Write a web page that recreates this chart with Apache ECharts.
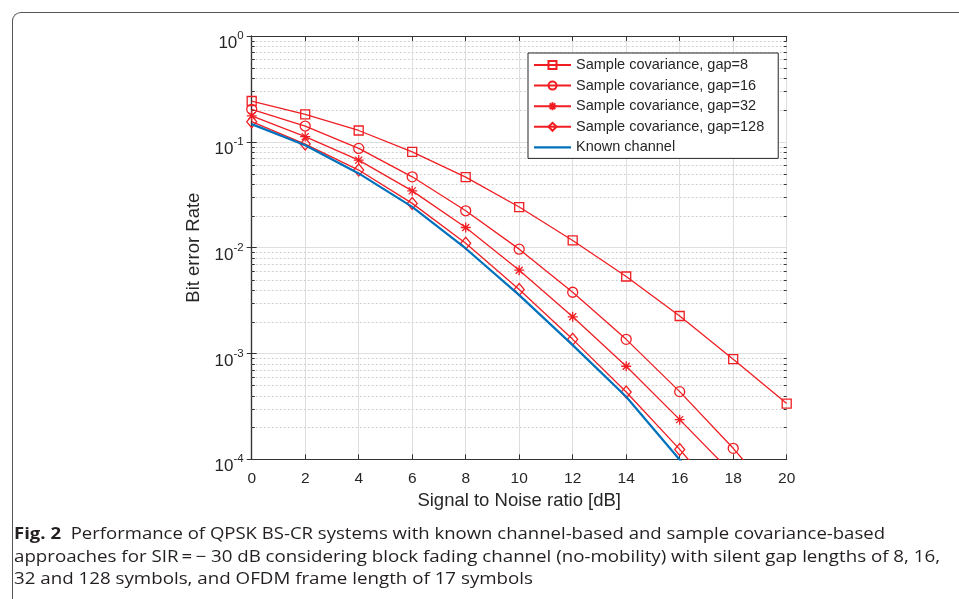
<!DOCTYPE html>
<html>
<head>
<meta charset="utf-8">
<script src="https://cdn.jsdelivr.net/npm/echarts@6/dist/echarts.min.js"></script>
<style>
  html, body { margin:0; padding:0; background:#fff; width:959px; height:599px; overflow:hidden; }
  #chart { position:absolute; left:0; top:0; width:959px; height:599px; }
  #frame { position:absolute; left:12px; top:12px; width:2000px; height:2000px;
           border-top:1.5px solid #555; border-left:1.5px solid #555; border-top-left-radius:9px; pointer-events:none; }
  #cap { position:absolute; left:14px; top:522px; font-family:'Open Sans','Noto Sans',sans-serif; font-size:16.5px;
         color:#231f20; line-height:22.5px; white-space:nowrap; }
  #cap .ln { display:block; transform-origin:0 50%; width:max-content; }
  #cap b { font-weight:700; }
</style>
</head>
<body>
<div id="chart"></div>
<div id="frame"></div>
<div id="cap">
  <div class="ln" data-w="871"><b>Fig. 2</b>&nbsp; Performance of QPSK BS-CR systems with known channel-based and sample covariance-based</div>
  <div class="ln" data-w="926">approaches for SIR&#8201;=&#8201;&#8722; 30 dB considering block fading channel (no-mobility) with silent gap lengths of 8, 16,</div>
  <div class="ln" data-w="519">32 and 128 symbols, and OFDM frame length of 17 symbols</div>
</div>
<script>
// ---- data ----
const snr = [0, 2, 4, 6, 8, 10, 12, 14, 16, 18, 20];
const gap8   = [0.243, 0.182, 0.128, 0.0805, 0.0464, 0.0242, 0.0117, 0.00534, 0.00226, 0.000883, 0.000336];
const gap16  = [0.203, 0.141, 0.0867, 0.0467, 0.0223, 0.00968, 0.00379, 0.00136, 0.000436, 0.000127, 0.000033];
const gap32  = [0.176, 0.112, 0.0672, 0.0344, 0.0155, 0.00612, 0.00222, 0.000757, 0.000237, 0.000072, 0.000020];
const gap128 = [0.155, 0.0952, 0.0541, 0.0262, 0.0110, 0.00402, 0.00136, 0.000433, 0.000124, 0.000032, 0.0000085];
const known  = [0.147, 0.093, 0.0503, 0.0243, 0.00982, 0.00356, 0.00120, 0.00039, 0.000099, 0.000025, 0.000006];
const seriesNames = ['Sample covariance, gap=8', 'Sample covariance, gap=16', 'Sample covariance, gap=32', 'Sample covariance, gap=128', 'Known channel'];
const xTitle = 'Signal to Noise ratio [dB]';
const yTitle = 'Bit error Rate';
// minor log ticks (2..9 x 10^n)
const minorTicks = [];
for (let n = -4; n <= -1; n++) for (let k = 2; k <= 9; k++) minorTicks.push(+(k * Math.pow(10, n)).toPrecision(3));

const RED = '#f01e23';
const BLUE = '#0072bd';
const FONT = 'Liberation Sans';
const AX = '#333';
const TXT = '#262626';

const pair = arr => snr.map((x, i) => [x, arr[i]]);
const STAR = 'path://M5,0L5,10M0,5L10,5M1.5,1.5L8.5,8.5M1.5,8.5L8.5,1.5';

function redSeries(name, arr, symbol, size) {
  return {
    name, type: 'line', data: pair(arr), symbol, symbolSize: size,
    clip: true, z: 3,
    lineStyle: { color: RED, width: 1.3 },
    itemStyle: { color: 'rgba(255,255,255,0)', borderColor: RED, borderWidth: 1.3 },
    emphasis: { disabled: true }
  };
}

const legendData = seriesNames.map((n, i) => i === 4
  ? { name: n, icon: 'path://M0,0L37,0L37,2.2L0,2.2Z', itemStyle: { color: BLUE, borderWidth: 0 } }
  : { name: n });

const chart = echarts.init(document.getElementById('chart'), null, { renderer: 'canvas' });
chart.setOption({
  animation: false,
  backgroundColor: '#fff',
  grid: { left: 251.7, right: 172.3, top: 36, bottom: 139.7 },
  legend: {
    data: legendData,
    orient: 'vertical', left: 528, top: 53,
    padding: [4, 14, 3, 5], itemGap: 4.6,
    itemWidth: 37, itemHeight: 10,
    backgroundColor: '#fff', borderColor: '#262626', borderWidth: 1, borderRadius: 0,
    textStyle: { fontFamily: FONT, fontSize: 14.5, color: TXT, lineHeight: 16 },
    selectedMode: false
  },
  xAxis: [{
    type: 'value', min: 0, max: 20, interval: 2, position: 'bottom',
    name: xTitle, nameLocation: 'middle', nameGap: 31,
    nameTextStyle: { fontFamily: FONT, fontSize: 18.5, color: TXT },
    axisLine: { show: true, lineStyle: { color: AX, width: 1.2 } },
    axisTick: { show: true, inside: true, length: 5, lineStyle: { color: AX } },
    axisLabel: { fontFamily: FONT, fontSize: 15.5, color: TXT, margin: 11 },
    splitLine: { show: true, lineStyle: { color: '#dedede', width: 1 } }
  }, {
    type: 'value', min: 0, max: 20, interval: 2, position: 'top',
    axisLine: { show: true, lineStyle: { color: AX, width: 1.2 } },
    axisTick: { show: true, inside: true, length: 5, lineStyle: { color: AX } },
    axisLabel: { show: false }, splitLine: { show: false }
  }],
  yAxis: [{
    type: 'log', logBase: 10, min: 0.0001, max: 1, position: 'left',
    name: yTitle, nameLocation: 'middle', nameGap: 41,
    nameTextStyle: { fontFamily: FONT, fontSize: 18.5, color: TXT },
    axisLine: { show: true, lineStyle: { color: AX, width: 1.2 } },
    axisTick: { show: true, inside: true, length: 5, lineStyle: { color: AX } },
    axisLabel: {
      margin: 8, fontFamily: FONT, fontSize: 17, color: TXT,
      formatter: v => '{b|10}{e|' + Math.round(Math.log10(v)) + '}',
      rich: {
        b: { fontFamily: FONT, fontSize: 17, color: TXT, lineHeight: 22, verticalAlign: 'bottom' },
        e: { fontFamily: FONT, fontSize: 11.5, color: TXT, lineHeight: 32, verticalAlign: 'middle' }
      }
    },
    splitLine: { show: true, lineStyle: { color: '#dedede', width: 1 } }
  }, {
    type: 'log', logBase: 10, min: 0.0001, max: 1, position: 'right',
    axisLine: { show: true, lineStyle: { color: AX, width: 1.2 } },
    axisTick: { show: true, inside: true, length: 5, lineStyle: { color: AX } },
    axisLabel: { show: false }, splitLine: { show: false }
  }],
  series: [
    {
      type: 'custom', name: 'minor', silent: true, z: 1,
      xAxisIndex: 0, yAxisIndex: 0,
      data: minorTicks.map(v => [0, v]),
      encode: { x: 0, y: 1 },
      renderItem: (params, api) => {
        const cs = params.coordSys;
        const y = Math.round(api.coord([0, api.value(1)])[1]) + 0.5;
        const x0 = cs.x, x1 = cs.x + cs.width;
        return {
          type: 'group',
          children: [
            { type: 'line', shape: { x1: x0, y1: y, x2: x1, y2: y }, style: { stroke: '#cfcfcf', lineWidth: 1, lineDash: [2, 2] } },
            { type: 'line', shape: { x1: x0, y1: y, x2: x0 + 3, y2: y }, style: { stroke: AX, lineWidth: 1 } },
            { type: 'line', shape: { x1: x1 - 3, y1: y, x2: x1, y2: y }, style: { stroke: AX, lineWidth: 1 } }
          ]
        };
      }
    },
    redSeries(seriesNames[0], gap8, 'rect', 9),
    redSeries(seriesNames[1], gap16, 'circle', 10),
    redSeries(seriesNames[2], gap32, STAR, 10),
    redSeries(seriesNames[3], gap128, 'diamond', [10, 12]),
    {
      name: seriesNames[4], type: 'line', data: pair(known), symbol: 'none', clip: true, z: 4,
      lineStyle: { color: BLUE, width: 2.2 }, itemStyle: { color: BLUE },
      emphasis: { disabled: true }
    }
  ]
});

// fit caption lines to the measured widths of the original
document.querySelectorAll('#cap .ln').forEach(el => {
  const w = el.getBoundingClientRect().width;
  const target = +el.dataset.w;
  if (w > 0) el.style.transform = 'scaleX(' + (target / w).toFixed(4) + ')';
});
</script>
</body>
</html>
